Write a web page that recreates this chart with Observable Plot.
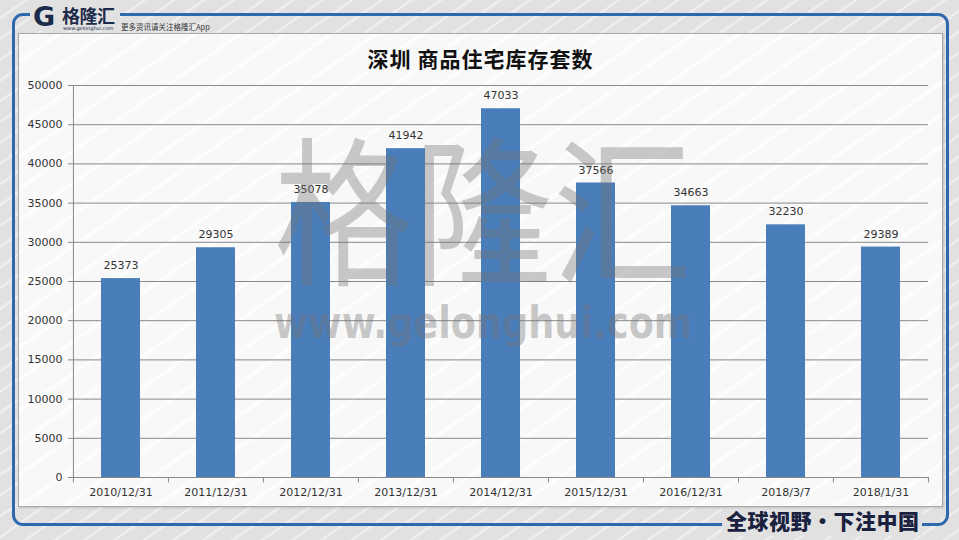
<!DOCTYPE html>
<html>
<head>
<meta charset="utf-8">
<script src="https://cdn.jsdelivr.net/npm/d3@7"></script>
<script src="https://cdn.jsdelivr.net/npm/@observablehq/plot@0.6"></script>
<style>
  body { margin: 0; }
  #page {
    position: relative; width: 959px; height: 540px; overflow: hidden;
    background-color: #e1e1e1;
    background-image: repeating-linear-gradient(145deg, rgba(255,255,255,0) 0px, rgba(255,255,255,0) 13px, rgba(255,255,255,0.55) 15px, rgba(255,255,255,0) 17px);
    font-family: "DejaVu Sans", sans-serif;
  }
  #frame {
    position: absolute; left: 12px; top: 13px; width: 937px; height: 513px;
    box-sizing: border-box; border: 3px solid #2f69ad; border-radius: 11px;
  }
  #inner {
    position: absolute; left: 18px; top: 33px; width: 925px; height: 474px;
    box-sizing: border-box; border: 1px solid #a9a9a9;
    background-color: #f8f8f8;
    background-image: repeating-linear-gradient(145deg, rgba(255,255,255,0) 0px, rgba(255,255,255,0) 20px, rgba(255,255,255,0.9) 23px, rgba(255,255,255,0) 26px);
    box-shadow: 1px 1px 2px rgba(0,0,0,0.15);
  }
  #title {
    position: absolute; left: 18px; width: 925px; top: 43px; text-align: center;
    font: bold 21px "Noto Sans CJK SC", sans-serif; color: #111; letter-spacing: 1px;
  }
  #chart { position: absolute; left: 0; top: 0; }
  #wm { position: absolute; left: 0; top: 0; pointer-events: none; }
  #logo-patch { position: absolute; left: 30px; top: 0px; width: 90px; height: 31px; background: #e1e1e1; }
  #logo-g { position: absolute; left: 33px; top: 1px; font: 900 27px "DejaVu Sans", sans-serif; color: #1d2b4b; }
  #logo-name { position: absolute; left: 62px; top: 2px; font: bold 18px "Noto Sans CJK SC", sans-serif; color: #1d2b4b; letter-spacing: -0.5px; }
  #logo-url { position: absolute; left: 63px; top: 25px; font: 5px "DejaVu Sans", sans-serif; color: #1d2b4b; }
  #logo-app { position: absolute; left: 121px; top: 21px; font: 7.5px "Noto Sans CJK SC", sans-serif; color: #333; }
  #slogan-patch { position: absolute; left: 722px; top: 506px; width: 200px; height: 30px; background: #e1e1e1; }
  #slogan { position: absolute; left: 726px; top: 505px; font: 900 21px "Noto Sans CJK SC", sans-serif; color: #1a2240; letter-spacing: 0.5px; }
</style>
</head>
<body>
<div id="page">
  <div id="frame"></div>
  <div id="logo-patch"></div>
  <div id="logo-g">G</div>
  <div id="logo-name">格隆汇</div>
  <div id="logo-url">www.gelonghui.com</div>
  <div id="logo-app">更多资讯请关注格隆汇App</div>
  <div id="slogan-patch"></div>
  <div id="slogan">全球视野・下注中国</div>
  <div id="inner"></div>
  <div id="title">深圳 商品住宅库存套数</div>
  <div id="chart"></div>
  <svg id="wm" width="959" height="540">
    <text x="274" y="273" font-family="Noto Sans CJK SC" font-size="160" textLength="418" lengthAdjust="spacingAndGlyphs" fill="rgba(115,115,115,0.38)">格隆汇</text>
    <text x="274" y="338" font-family="DejaVu Sans" font-weight="bold" font-size="44" textLength="418" lengthAdjust="spacingAndGlyphs" fill="rgba(115,115,115,0.38)">www.gelonghui.com</text>
  </svg>
</div>
<script>
const categories = ["2010/12/31","2011/12/31","2012/12/31","2013/12/31","2014/12/31","2015/12/31","2016/12/31","2018/3/7","2018/1/31"];
const values = [25373, 29305, 35078, 41942, 47033, 37566, 34663, 32230, 29389];
const yTicks = [0,5000,10000,15000,20000,25000,30000,35000,40000,45000,50000];

const data = categories.map((c, i) => ({cat: c, value: values[i]}));
const W = 959, H = 540, mL = 72, mR = 31, mT = 85, mB = 63;
const step = (W - mL - mR) / categories.length;
const grid = "#888888";

const chart = Plot.plot({
  width: W, height: H,
  marginLeft: mL, marginRight: mR, marginTop: mT, marginBottom: mB,
  style: {background: "transparent", fontFamily: "DejaVu Sans, sans-serif", fontSize: "11px", color: "#333", overflow: "visible"},
  x: {domain: categories, paddingInner: 0.59, paddingOuter: 0.295, label: null},
  y: {domain: [0, 50000], label: null},
  marks: [
    Plot.ruleY(yTicks, {stroke: grid, strokeWidth: 1}),
    Plot.ruleX([categories[0]], {dx: -step / 2, stroke: grid}),
    Plot.ruleX(categories, {y1: 0, y2: -700, dx: -step / 2, stroke: grid}),
    Plot.ruleX([categories[categories.length - 1]], {y1: 0, y2: -700, dx: step / 2, stroke: grid}),
    Plot.barY(data, {x: "cat", y: "value", fill: "#4a7ebb"}),
    Plot.text(data, {x: "cat", y: "value", text: d => String(d.value), dy: -13, fill: "#333", fontSize: 11}),
    Plot.axisY({ticks: yTicks, tickSize: 4, tickPadding: 6, tickFormat: d => String(d), stroke: grid, fill: "#333", label: null}),
    Plot.axisX({tickSize: 0, tickPadding: 11, fill: "#333", label: null})
  ]
});
document.getElementById("chart").appendChild(chart);
</script>
</body>
</html>
